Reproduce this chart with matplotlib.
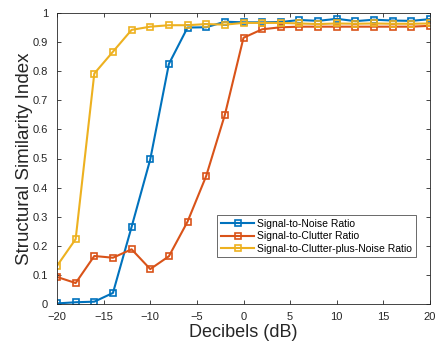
import matplotlib
matplotlib.use("Agg")
import matplotlib.pyplot as plt

# decibel levels
db = [-20, -18, -16, -14, -12, -10, -8, -6, -4, -2, 0,
      2, 4, 6, 8, 10, 12, 14, 16, 18, 20]

snr = [0.002, 0.006, 0.008, 0.038, 0.265, 0.497, 0.825, 0.950, 0.951, 0.970, 0.968,
       0.968, 0.969, 0.976, 0.973, 0.980, 0.972, 0.977, 0.974, 0.973, 0.979]

scr = [0.093, 0.072, 0.165, 0.159, 0.188, 0.120, 0.164, 0.283, 0.440, 0.650, 0.915,
       0.944, 0.951, 0.953, 0.953, 0.953, 0.953, 0.953, 0.953, 0.953, 0.956]

scnr = [0.131, 0.223, 0.792, 0.867, 0.942, 0.953, 0.958, 0.958, 0.962, 0.960, 0.966,
        0.966, 0.966, 0.964, 0.962, 0.964, 0.963, 0.964, 0.963, 0.963, 0.964]

labels = ["Signal-to-Noise Ratio",
          "Signal-to-Clutter Ratio",
          "Signal-to-Clutter-plus-Noise Ratio"]
colors = ["#0072BD", "#D95319", "#EDB120"]

plt.rcParams["font.family"] = ["Liberation Sans", "DejaVu Sans"]

fig = plt.figure(figsize=(4.4, 3.45), dpi=100)
ax = fig.add_axes([57 / 440, 1 - 304 / 345, 373 / 440, 291 / 345])

for series, label, color in zip([snr, scr, scnr], labels, colors):
    ax.plot(db, series, color=color, linewidth=1.5, marker="s",
            markersize=5, markerfacecolor="none", markeredgewidth=1.2,
            label=label)

ax.set_xlim(-20, 20)
ax.set_ylim(0, 1)
ax.set_xticks(range(-20, 21, 5))
ax.set_yticks([i / 10 for i in range(11)])
ax.set_yticklabels(["0", "0.1", "0.2", "0.3", "0.4", "0.5",
                    "0.6", "0.7", "0.8", "0.9", "1"])

ax.tick_params(direction="in", top=True, right=True, labelsize=8,
               colors="#262626", length=3, width=0.6)
ax.tick_params(axis="x", pad=5.5)
ax.tick_params(axis="y", pad=6.5)
for spine in ax.spines.values():
    spine.set_color("#262626")
    spine.set_linewidth(0.6)

ax.set_xlabel("Decibels (dB)", fontsize=13, color="#262626", labelpad=2)
ax.set_ylabel("Structural Similarity Index", fontsize=13.5, color="#262626",
              labelpad=0)

leg = ax.legend(loc="upper right", bbox_to_anchor=(0.9625, 0.306),
                borderaxespad=0, fontsize=7.5, fancybox=False,
                edgecolor="#262626", handlelength=3.2, handletextpad=0.3,
                borderpad=0.35, labelspacing=0.25)
leg.get_frame().set_linewidth(0.6)

plt.savefig("out.png", dpi=100)
plt.close()
